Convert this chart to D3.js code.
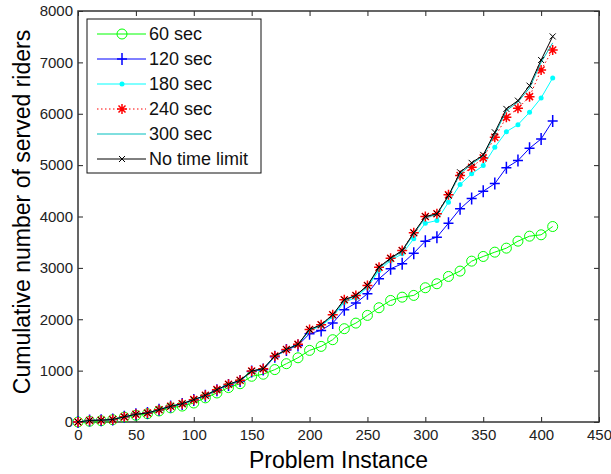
<!DOCTYPE html>
<html lang="en">
<head>
    <meta charset="UTF-8">
    <title>Cumulative served riders</title>
    <script src="https://d3js.org/d3.v7.min.js"></script>
    <style>
        body {margin: 0; background: white;}
        text {font-family: "Liberation Sans", Arial, sans-serif;}
    </style>
</head>
<body>
<script>
    const width = 611;
    const height = 474;

    // problem instances 0, 10, ... 410
    const instances = d3.range(0, 420, 10);

    const sec60  = [0, 15, 25, 45, 95, 130, 160, 215, 275, 310, 370, 470, 565, 670, 745, 890, 930, 1020, 1135, 1250,
                    1394, 1472, 1602, 1816, 1925, 2075, 2224, 2366, 2430, 2464, 2613, 2691, 2833, 2937, 3131, 3222,
                    3306, 3384, 3520, 3617, 3644, 3805];
    const sec120 = [0, 30, 35, 50, 100, 150, 175, 240, 300, 350, 430, 510, 620, 720, 800, 985, 1020, 1270, 1400, 1491,
                    1719, 1783, 1925, 2185, 2314, 2497, 2788, 2982, 3080, 3287, 3520, 3598, 3870, 4149, 4350, 4492,
                    4640, 4950, 5089, 5328, 5510, 5860];
    const sec180 = [0, 30, 35, 50, 100, 150, 175, 240, 305, 355, 432, 515, 625, 728, 806, 988, 1030, 1275, 1405, 1505,
                    1780, 1870, 2050, 2330, 2420, 2620, 2950, 3144, 3274, 3566, 3870, 3922, 4278, 4622, 4830, 4991,
                    5347, 5652, 5788, 6028, 6308, 6697];
    const sec240 = [0, 30, 35, 50, 100, 150, 175, 240, 305, 357, 435, 519, 630, 733, 811, 992, 1038, 1283, 1413, 1511,
                    1800, 1894, 2088, 2380, 2464, 2658, 3014, 3189, 3339, 3683, 4000, 4052, 4422, 4797, 4958, 5141,
                    5542, 5930, 6106, 6333, 6852, 7241];
    const sec300 = [0, 30, 35, 50, 100, 150, 175, 240, 305, 357, 435, 519, 630, 733, 811, 992, 1038, 1283, 1413, 1511,
                    1790, 1885, 2075, 2365, 2455, 2645, 2995, 3170, 3320, 3660, 3975, 4040, 4390, 4830, 5020, 5180,
                    5600, 6060, 6230, 6500, 7000, 7380];
    const noLimit = [0, 30, 35, 50, 100, 150, 175, 240, 305, 357, 435, 519, 630, 733, 811, 992, 1038, 1283, 1413, 1511,
                    1800, 1894, 2088, 2380, 2464, 2658, 3014, 3189, 3339, 3683, 4000, 4052, 4408, 4861, 5044, 5199,
                    5639, 6094, 6255, 6547, 7046, 7505];

    const seriesNames = ["60 sec", "120 sec", "180 sec", "240 sec", "300 sec", "No time limit"];
    const seriesValues = [sec60, sec120, sec180, sec240, sec300, noLimit];
    const seriesColors = ["#00ff00", "#0000ff", "#00ffff", "#ff0000", "#00bfbf", "#000000"];
    const seriesMarkers = ["circle", "plus", "dot", "star", "none", "x"];
    const seriesDash = [null, null, null, "1.5,2.5", null, null];

    const xTicks = d3.range(0, 500, 50);
    const yTicks = d3.range(0, 9000, 1000);

    const margin = {left: 78, right: 12, top: 11, bottom: 52};

    const svg = d3.select("body").append("svg")
            .attr("width", width).attr("height", height);

    const x = d3.scaleLinear().domain([0, 450]).range([margin.left, width - margin.right]);
    const y = d3.scaleLinear().domain([0, 8000]).range([height - margin.bottom, margin.top]);

    // axes, ticks inside like matlab
    svg.append("g").attr("class", "axis")
            .attr("transform", `translate(0,${y(0)})`)
            .call(d3.axisBottom(x).tickValues(xTicks).tickFormat(d3.format("d"))
                    .tickSizeInner(-5).tickSizeOuter(0).tickPadding(7));
    svg.append("g").attr("class", "axis")
            .attr("transform", `translate(${x(0)},0)`)
            .call(d3.axisLeft(y).tickValues(yTicks).tickFormat(d3.format("d"))
                    .tickSizeInner(-5).tickSizeOuter(0).tickPadding(5));
    svg.append("g").attr("class", "axis noLabel")
            .attr("transform", `translate(0,${y(8000)})`)
            .call(d3.axisTop(x).tickValues(xTicks).tickSizeInner(-5).tickSizeOuter(0));
    svg.append("g").attr("class", "axis noLabel")
            .attr("transform", `translate(${x(450)},0)`)
            .call(d3.axisRight(y).tickValues(yTicks).tickSizeInner(-5).tickSizeOuter(0));

    svg.selectAll(".axis path").remove();
    svg.selectAll(".noLabel text").remove();
    svg.selectAll(".axis line").attr("stroke", "#222");
    svg.selectAll(".axis text").style("font-size", "15px").attr("fill", "#222");

    svg.append("rect")
            .attr("x", x(0)).attr("y", y(8000))
            .attr("width", x(450) - x(0)).attr("height", y(0) - y(8000))
            .attr("fill", "none").attr("stroke", "#333").attr("stroke-width", 1.5);

    // markers
    function drawMarker(g, type, color, cx, cy) {
        if (type === "circle") {
            g.append("circle").attr("cx", cx).attr("cy", cy).attr("r", 5)
                    .attr("fill", "none").attr("stroke", color);
        } else if (type === "plus") {
            g.append("path").attr("d", `M${cx-5},${cy}H${cx+5}M${cx},${cy-6}V${cy+6}`)
                    .attr("stroke", color).attr("stroke-width", 1.5);
        } else if (type === "dot") {
            g.append("circle").attr("cx", cx).attr("cy", cy).attr("r", 2.5).attr("fill", color);
        } else if (type === "star") {
            g.append("path").attr("d", `M${cx-5},${cy}H${cx+5}M${cx},${cy-5}V${cy+5}` +
                    `M${cx-3.5},${cy-3.5}L${cx+3.5},${cy+3.5}M${cx-3.5},${cy+3.5}L${cx+3.5},${cy-3.5}`)
                    .attr("stroke", color).attr("stroke-width", 1.5);
        } else if (type === "x") {
            g.append("path").attr("d", `M${cx-3},${cy-3}L${cx+3},${cy+3}M${cx-3},${cy+3}L${cx+3},${cy-3}`)
                    .attr("stroke", color).attr("stroke-width", 1);
        }
    }

    const line = d3.line().x(d => x(d[0])).y(d => y(d[1]));

    seriesValues.forEach((vals, i) => {
        const pts = instances.map((d, j) => [d, vals[j]]);
        const g = svg.append("g").attr("class", "series");
        g.append("path")
                .datum(pts)
                .attr("d", line)
                .attr("fill", "none")
                .attr("stroke", seriesColors[i])
                .attr("stroke-width", 1)
                .attr("stroke-dasharray", seriesDash[i]);
        pts.forEach(p => drawMarker(g, seriesMarkers[i], seriesColors[i], x(p[0]), y(p[1])));
    });

    // legend
    const legend = svg.append("g").attr("class", "legend");
    legend.append("rect")
            .attr("x", 87).attr("y", 19).attr("width", 174).attr("height", 154)
            .attr("fill", "white").attr("stroke", "#111");
    seriesNames.forEach((name, i) => {
        const ly = 34 + i * 25;
        legend.append("line")
                .attr("x1", 97).attr("x2", 146).attr("y1", ly).attr("y2", ly)
                .attr("stroke", seriesColors[i]).attr("stroke-dasharray", seriesDash[i]);
        drawMarker(legend, seriesMarkers[i], seriesColors[i], 122, ly);
        legend.append("text")
                .attr("x", 149).attr("y", ly).attr("dy", "0.36em")
                .style("font-size", "18px").attr("fill", "#111")
                .text(name);
    });

    // axis labels
    svg.append("text")
            .attr("x", x(225)).attr("y", 468)
            .attr("text-anchor", "middle")
            .style("font-size", "23px")
            .text("Problem Instance");

    svg.append("text")
            .attr("transform", "translate(30,212) rotate(-90)")
            .attr("text-anchor", "middle")
            .style("font-size", "23px")
            .text("Cumulative number of served riders");
</script>
</body>
</html>
